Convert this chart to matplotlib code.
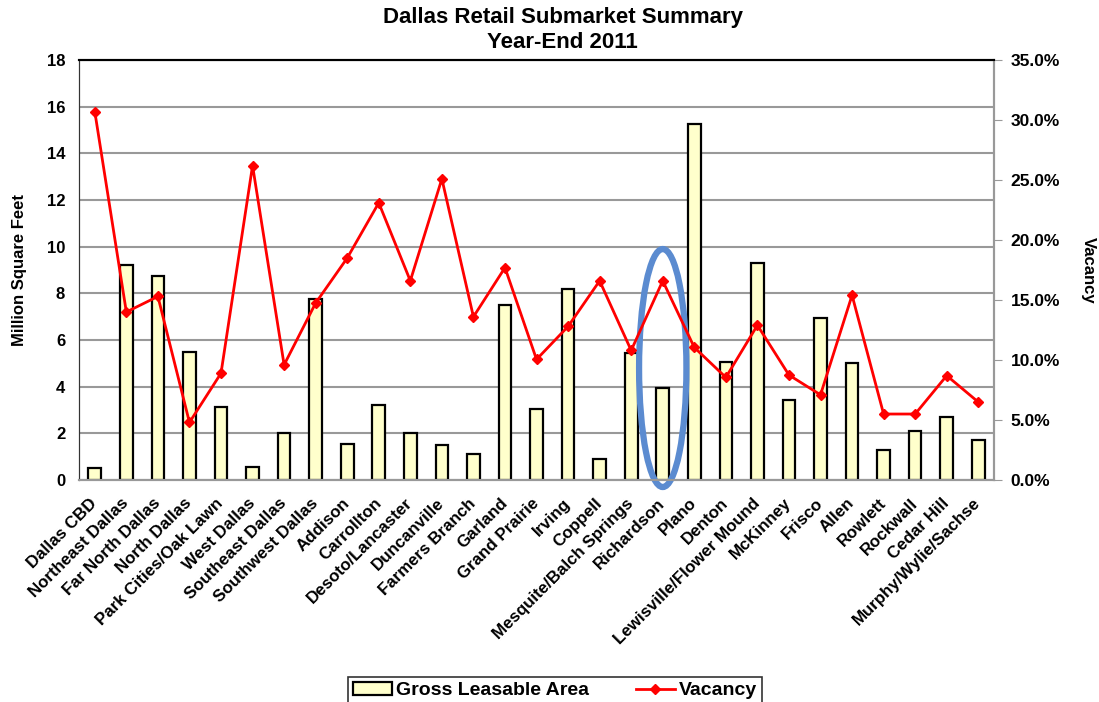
import matplotlib
matplotlib.use('Agg')
import matplotlib.pyplot as plt
from matplotlib.patches import Ellipse
from matplotlib.ticker import FuncFormatter, MultipleLocator
import numpy as np

plt.rcParams['font.family'] = ['Liberation Sans', 'DejaVu Sans']
plt.rcParams['font.weight'] = 'bold'

submarkets = ['Dallas CBD', 'Northeast Dallas', 'Far North Dallas', 'North Dallas',
              'Park Cities/Oak Lawn', 'West Dallas', 'Southeast Dallas', 'Southwest Dallas',
              'Addison', 'Carrollton', 'Desoto/Lancaster', 'Duncanville', 'Farmers Branch',
              'Garland', 'Grand Prairie', 'Irving', 'Coppell', 'Mesquite/Balch Springs',
              'Richardson', 'Plano', 'Denton', 'Lewisville/Flower Mound', 'McKinney',
              'Frisco', 'Allen', 'Rowlett', 'Rockwall', 'Cedar Hill', 'Murphy/Wylie/Sachse']

# million square feet
gla = [0.5, 9.2, 8.75, 5.5, 3.15, 0.55, 2.0, 7.75, 1.55, 3.2, 2.0, 1.5, 1.1, 7.5,
       3.05, 8.2, 0.9, 5.45, 3.95, 15.25, 5.05, 9.3, 3.45, 6.95, 5.0, 1.3, 2.1, 2.7, 1.7]

# percent
vacancy = [30.7, 14.0, 15.3, 4.8, 8.9, 26.2, 9.6, 14.75, 18.5, 23.1, 16.6, 25.1, 13.6,
           17.7, 10.05, 12.8, 16.6, 10.8, 16.6, 11.05, 8.55, 12.9, 8.75, 7.1, 15.4,
           5.5, 5.5, 8.7, 6.5]

highlight = 'Richardson'

x = np.arange(len(submarkets))

fig = plt.figure(figsize=(10.99, 7.02), dpi=100)
ax = fig.add_axes([0.0719, 0.3162, 0.8326, 0.5983])
ax2 = ax.twinx()

ax.set_zorder(ax2.get_zorder() - 1)
ax.patch.set_visible(True)
ax2.patch.set_visible(False)

bars = ax.bar(x, gla, width=0.4, color='#ffffcc', edgecolor='black', linewidth=1.6,
              label='Gross Leasable Area', zorder=3)
line, = ax2.plot(x, vacancy, color='#ff0000', lw=2, marker='D', markersize=5,
                 label='Vacancy', zorder=4)

ax.set_xlim(-0.5, len(submarkets) - 0.5)
ax.set_ylim(0, 18)
ax2.set_ylim(0, 35)
ax.yaxis.set_major_locator(MultipleLocator(2))
ax2.yaxis.set_major_locator(MultipleLocator(5))
ax2.yaxis.set_major_formatter(FuncFormatter(lambda v, p: '%.1f%%' % v))

ax.grid(axis='y', color='#999999', lw=1.5, zorder=0)
ax.set_axisbelow(True)

for a in (ax, ax2):
    a.spines['top'].set_color('black')
    a.spines['top'].set_linewidth(1.5)
    a.spines['left'].set_color('#333333')
    a.spines['right'].set_color('#999999')
    a.spines['bottom'].set_color('#999999')
    a.spines['right'].set_linewidth(1.5)
    a.spines['bottom'].set_linewidth(1.5)

ax.set_xticks(x)
ax.set_xticklabels(submarkets, rotation=45, ha='right', va='center',
                   rotation_mode='anchor', fontsize=12.2, fontweight='bold')
ax.tick_params(axis='x', length=0, pad=15)
ax.tick_params(axis='y', length=0, labelsize=12, pad=10)
ax2.tick_params(axis='y', length=6, color='#999999', labelsize=12.5, pad=6)
for t in ax.get_yticklabels() + ax2.get_yticklabels():
    t.set_fontweight('bold')

ax.set_ylabel('Million Square Feet', fontsize=12, fontweight='bold', labelpad=14)
ax2.set_ylabel('Vacancy', fontsize=12, fontweight='bold', rotation=270, labelpad=26)

fig.text(0.512, 1 - 18 / 702, 'Dallas Retail Submarket Summary', ha='center',
         va='center', fontsize=16, fontweight='bold')
fig.text(0.512, 1 - 43 / 702, 'Year-End 2011', ha='center', va='center',
         fontsize=16, fontweight='bold')

i = submarkets.index(highlight)
ax.add_patch(Ellipse((x[i], 4.8), 1.5, 10.2, fill=False, edgecolor='#5b8bd0',
                     lw=4.5, zorder=6, clip_on=False))

leg = fig.legend([bars, line], ['Gross Leasable Area', 'Vacancy'], loc='upper center',
                 bbox_to_anchor=(0.505, 1 - 677 / 702), bbox_transform=fig.transFigure,
                 ncol=2, frameon=True, fancybox=False, edgecolor='black',
                 prop={'weight': 'bold', 'size': 14}, handlelength=2.0,
                 handletextpad=0.2, columnspacing=2.4, borderpad=0.25,
                 borderaxespad=0)
leg._legend_box.sep = 4
leg.get_frame().set_linewidth(1.2)
leg.set_in_layout(False)

fig.savefig('out.png', dpi=100)
